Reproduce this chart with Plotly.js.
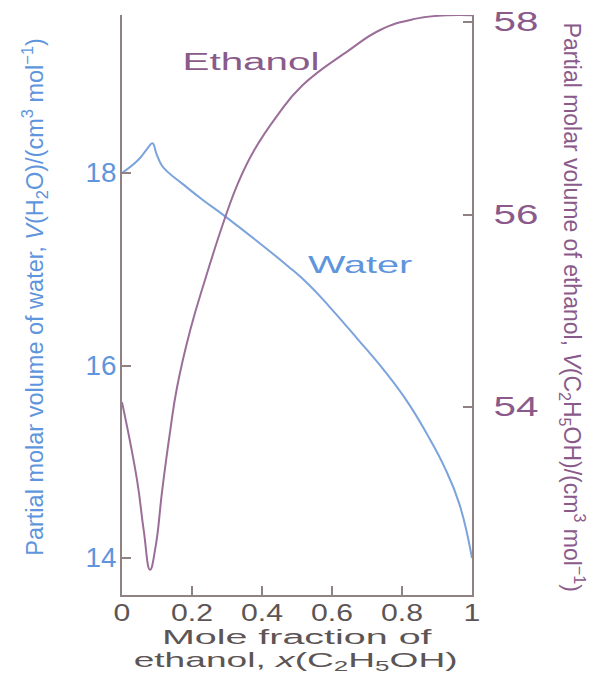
<!DOCTYPE html>
<html>
<head>
<meta charset="utf-8">
<script src="https://cdn.plot.ly/plotly-3.0.1.min.js"></script>
<style>
  html, body { margin: 0; padding: 0; background: #ffffff; }
  #chart { width: 611px; height: 674px; }
</style>
</head>
<body>
<div id="chart"></div>
<script>
// ---- data ----
const xTickVals = [0, 0.2, 0.4, 0.6, 0.8, 1];
const xTickText = ['0', '0.2', '0.4', '0.6', '0.8', '1'];
const waterTicks = [14, 16, 18];
const ethanolTicks = [54, 56, 58];

// Partial molar volume of water (left axis)
const waterX = [0, 0.046, 0.073, 0.087, 0.098, 0.113, 0.128, 0.172, 0.231, 0.291, 0.475, 0.534, 0.593, 0.672, 0.751, 0.816, 0.871, 0.922, 0.964, 1.0];
const waterY = [18.0, 18.135, 18.257, 18.31, 18.205, 18.083, 18.02, 17.89, 17.72, 17.56, 17.03, 16.84, 16.61, 16.28, 15.94, 15.62, 15.29, 14.94, 14.56, 14.0];

// Partial molar volume of ethanol (right axis)
const ethanolX = [0, 0.043, 0.062, 0.080, 0.096, 0.115, 0.138, 0.157, 0.195, 0.238, 0.291, 0.333, 0.378, 0.442, 0.515, 0.646, 0.739, 0.833, 0.928, 1.0];
const ethanolY = [54.05, 53.24, 52.72, 52.31, 52.55, 53.14, 53.76, 54.20, 54.80, 55.33, 55.93, 56.34, 56.67, 57.02, 57.34, 57.70, 57.92, 58.03, 58.07, 58.07];

// ---- styles ----
const axisC = '#8e8282';
const blueLine = '#7ba3dc';
const blueText = '#5e95dc';
const purpleLine = '#9a6e98';
const purpleText = '#8a5a8a';
const greyText = '#5d5555';
const FONT = 'Liberation Sans, Arial, Helvetica, sans-serif';

const traces = [
  {
    x: waterX, y: waterY, type: 'scatter', mode: 'lines', yaxis: 'y',
    line: { color: blueLine, width: 2, shape: 'spline', smoothing: 1.3 },
    hoverinfo: 'skip', name: 'Water'
  },
  {
    x: ethanolX, y: ethanolY, type: 'scatter', mode: 'lines', yaxis: 'y2',
    line: { color: purpleLine, width: 2, shape: 'spline', smoothing: 1.3 },
    hoverinfo: 'skip', name: 'Ethanol'
  }
];

const layout = {
  width: 611, height: 674,
  margin: { l: 122, r: 139, t: 15, b: 79, pad: 0 },
  paper_bgcolor: '#ffffff', plot_bgcolor: '#ffffff',
  showlegend: false,
  font: { family: FONT },
  xaxis: {
    range: [0, 1], tickmode: 'array', tickvals: xTickVals, ticktext: xTickText,
    ticks: 'inside', ticklen: 9, tickwidth: 2, tickcolor: axisC,
    showline: true, linecolor: axisC, linewidth: 2, mirror: false,
    showgrid: false, zeroline: false,
    tickfont: { size: 24, color: greyText, family: FONT },
    ticklabelstandoff: -5, fixedrange: true
  },
  yaxis: {
    range: [13.616, 19.642], tickmode: 'array', tickvals: waterTicks,
    ticks: 'inside', ticklen: 9, tickwidth: 2, tickcolor: axisC,
    showline: true, linecolor: axisC, linewidth: 2,
    showgrid: false, zeroline: false,
    tickfont: { size: 27, color: blueText, family: FONT },
    ticklabelstandoff: -2, fixedrange: true
  },
  yaxis2: {
    overlaying: 'y', side: 'right',
    range: [52.047, 58.073], tickmode: 'array', tickvals: ethanolTicks,
    ticks: 'inside', ticklen: 9, tickwidth: 2, tickcolor: axisC,
    showline: true, linecolor: axisC, linewidth: 2,
    showgrid: false, zeroline: false,
    tickfont: { size: 27, color: purpleText, family: FONT },
    ticklabelstandoff: 14, fixedrange: true
  },
  annotations: [
    { text: 'Ethanol', xref: 'paper', yref: 'paper', x: 0.369, y: 0.919,
      xanchor: 'center', yanchor: 'middle', showarrow: false,
      font: { size: 23, color: purpleText, family: FONT } },
    { text: 'Water', xref: 'paper', yref: 'paper', x: 0.68, y: 0.569,
      xanchor: 'center', yanchor: 'middle', showarrow: false,
      font: { size: 23, color: blueText, family: FONT } },
    { text: 'Mole fraction of', xref: 'paper', yref: 'paper', x: 0.5, y: -0.0707,
      xanchor: 'center', yanchor: 'middle', showarrow: false, borderpad: 0,
      font: { size: 21, color: greyText, family: FONT } },
    { text: 'ethanol, <i>x</i>(C<sub>2</sub>H<sub>5</sub>OH)', xref: 'paper', yref: 'paper', x: 0.495, y: -0.1138,
      xanchor: 'center', yanchor: 'middle', showarrow: false, borderpad: 0,
      font: { size: 21, color: greyText, family: FONT } },
    { text: 'Partial molar volume of water, <i>V</i>(H<sub>2</sub>O)/(cm<sup>3</sup> mol<sup>\u22121</sup>)',
      xref: 'paper', yref: 'paper', x: -0.249, y: 0.514, textangle: -90,
      xanchor: 'center', yanchor: 'middle', showarrow: false,
      font: { size: 23.5, color: blueText, family: FONT } },
    { text: 'Partial molar volume of ethanol, <i>V</i>(C<sub>2</sub>H<sub>5</sub>OH)/(cm<sup>3</sup> mol<sup>\u22121</sup>)',
      xref: 'paper', yref: 'paper', x: 1.289, y: 0.497, textangle: 90,
      xanchor: 'center', yanchor: 'middle', showarrow: false,
      font: { size: 23, color: purpleText, family: FONT } }
  ]
};

// horizontal stretch of text, about a chosen anchor (0 = left, 0.5 = centre, 1 = right)
function stretch(el, sx, ax) {
  const b = el.getBBox();
  const cx = b.x + b.width * ax, cy = b.y + b.height / 2;
  const prev = el.getAttribute('transform') || '';
  el.setAttribute('transform', prev + ' translate(' + cx + ' ' + cy + ') scale(' + sx + ' 1) translate(' + (-cx) + ' ' + (-cy) + ')');
}
function annText(i) {
  return document.querySelector('.annotation[data-index="' + i + '"] text.annotation-text');
}

Plotly.newPlot('chart', traces, layout, { staticPlot: true, displayModeBar: false, responsive: false }).then(function () {
  // wide lettering of the reference
  const targets = [[0, 137], [1, 105], [2, 270], [3, 324]];
  targets.forEach(function (t) {
    const el = annText(t[0]);
    if (el) { const w = el.getBBox().width; if (w > 0) stretch(el, t[1] / w, 0.5); }
  });
  const xt = Array.from(document.querySelectorAll('.xtick text'));
  const ref = xt.find(function (e) { return e.textContent === '0.2'; });
  if (ref) {
    const f = 42 / ref.getBBox().width;
    xt.forEach(function (e) { stretch(e, f, 0.5); });
  }
  const yt = Array.from(document.querySelectorAll('.ytick text'));
  const y2t = Array.from(document.querySelectorAll('.y2tick text'));
  if (yt.length) {
    const f = 31 / yt[0].getBBox().width;
    yt.forEach(function (e) { stretch(e, f, 1); });
  }
  if (y2t.length) {
    const f = 45 / y2t[0].getBBox().width;
    y2t.forEach(function (e) { stretch(e, f, 0); });
  }
});
</script>
</body>
</html>
